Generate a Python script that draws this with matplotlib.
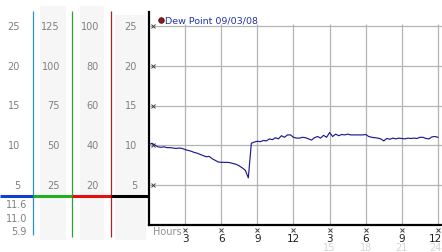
import matplotlib.pyplot as plt
from matplotlib.patches import Rectangle
import numpy as np

# dew point readings, every 15 minutes over 24 hours
dew = [10.1, 10.25, 10.0, 9.8, 9.75, 9.8, 9.7, 9.7, 9.65, 9.6, 9.65, 9.6, 9.45,
       9.35, 9.25, 9.1, 9.0, 8.85, 8.7, 8.55, 8.6, 8.3, 8.1, 7.9, 7.85,
       7.85, 7.85, 7.8, 7.7, 7.6, 7.4, 7.15, 6.85,
       5.9, 10.25, 10.4, 10.5, 10.45, 10.6, 10.55, 10.8, 10.7, 10.95, 10.8, 11.2,
       11.0, 11.3, 11.3, 11.0,
       10.9, 10.9, 11.0, 10.95, 10.8, 10.65, 10.95, 11.1, 10.9, 11.25, 11.0, 11.6,
       11.1, 11.4, 11.2, 11.35, 11.3, 11.4, 11.3, 11.3, 11.3, 11.3, 11.3, 11.35,
       11.1, 11.0, 10.95, 10.9, 10.8, 10.55, 10.85, 10.75, 10.9, 10.8, 10.9, 10.85,
       10.8, 10.9, 10.85, 10.9, 10.85, 11.0, 11.0, 10.85, 10.8, 11.05, 11.1, 11.0]
hours = np.linspace(0, 24, len(dew))

grid_vals = [25, 20, 15, 10, 5]
col1 = ['25', '20', '15', '10', '5']
col2 = ['125', '100', '75', '50', '25']
col3 = ['100', '80', '60', '40', '20']
col4 = ['25', '20', '15', '10', '5']
stats = ['11.6', '11.0', '5.9']
hr_ticks = [3, 6, 9, 12, 15, 18, 21, 24]
hr_labels = ['3', '6', '9', '12', '3', '6', '9', '12']
hr_labels2 = {15: '15', 18: '18', 21: '21', 24: '24'}
legend_text = 'Dew Point 09/03/08'

W, H = 442, 253
y0_px, ytop_px = 225.75, 13
ppu = 7.95  # pixels per unit
ymax = (y0_px - ytop_px) / ppu
xppu = 12.04
xmax = (442 - 149) / xppu


def v(py):
    # pixel row -> value on the y scale
    return (y0_px - py) / ppu


fig = plt.figure(figsize=(W / 100, H / 100), dpi=100)
pos_b = 1 - y0_px / H
pos_h = (y0_px - ytop_px) / H

# main chart
ax = fig.add_axes([149 / W, pos_b, (W - 149) / W, pos_h])
ax.set_xlim(0, xmax)
ax.set_ylim(0, ymax)
for s in ['top', 'right']:
    ax.spines[s].set_visible(False)
ax.spines['left'].set_linewidth(1.6)
ax.spines['bottom'].set_linewidth(1.6)
ax.set_xticks([])
ax.set_yticks([])
ax.hlines(grid_vals, 0, xmax, color='#b4b4b4', lw=0.9, zorder=1)
ax.vlines(hr_ticks, 0, v(25), color='#b4b4b4', lw=0.9, zorder=1)
ax.plot(hours, dew, color='#1c1c8c', lw=0.85, zorder=3)

# small tick marks
ax.plot([0.3] * len(grid_vals), grid_vals, 'x', ms=2.2, mew=0.7, color='#444444', clip_on=False)
ax.plot(hr_ticks, [v(231)] * len(hr_ticks), 'x', ms=2.2, mew=0.7, color='#444444', clip_on=False)

for h, lab in zip(hr_ticks, hr_labels):
    ha = 'right' if h == 24 else 'center'
    xx = xmax if h == 24 else h
    ax.text(xx, v(239), lab, ha=ha, va='center', fontsize=7.5, color='#202020', clip_on=False)
for h, lab in hr_labels2.items():
    ha = 'right' if h == 24 else 'center'
    xx = xmax if h == 24 else h
    ax.text(xx, v(248), lab, ha=ha, va='center', fontsize=7, color='#d4d4d4', clip_on=False)
ax.text(4 / xppu, v(232), 'Hours', ha='left', va='center', fontsize=7, color='#909090', clip_on=False)

# legend
ax.plot([(160.7 - 149) / xppu], [v(20.7)], 'o', ms=4, color='#901818', mec='#501010', mew=0.6, clip_on=False)
ax.text((165 - 149) / xppu, v(20.7), legend_text, ha='left', va='center', fontsize=6.8,
        color='#2233aa', clip_on=False)

# left scale panels
axl = fig.add_axes([0, pos_b, 149 / W, pos_h])
axl.set_xlim(0, 149)
axl.set_ylim(0, ymax)
axl.axis('off')
for x0, x1, top in [(40, 66, 7), (80, 104, 7), (115, 146, 16)]:
    axl.add_patch(Rectangle((x0, v(241)), x1 - x0, v(top) - v(241), color='#f6f6f6',
                            lw=0, clip_on=False, zorder=0))
axl.vlines(33.3, v(236), v(12), color='#2a90d0', lw=0.9, clip_on=False)
axl.vlines(72.3, v(238), v(12), color='#30a030', lw=0.9, clip_on=False)
axl.vlines(111.3, v(238), v(12), color='#b02020', lw=0.9, clip_on=False)
for x0, x1, c in [(0, 33.3, '#1040d0'), (33.3, 72.3, '#20b020'), (72.3, 111.3, '#e01010'),
                  (111.3, 149, '#000000')]:
    axl.hlines(v(197), x0, x1, color=c, lw=2.2, clip_on=False, zorder=3)

for xr, labels in [(20, col1), (60, col2), (99, col3), (137, col4)]:
    for yv, lab in zip(grid_vals, labels):
        axl.text(xr, yv, lab, ha='right', va='center', fontsize=7, color='#808080', clip_on=False)
for py, lab in zip([205, 219, 232], stats):
    axl.text(27, v(py), lab, ha='right', va='center', fontsize=7, color='#808080', clip_on=False)

fig.savefig('out.png', dpi=100)
